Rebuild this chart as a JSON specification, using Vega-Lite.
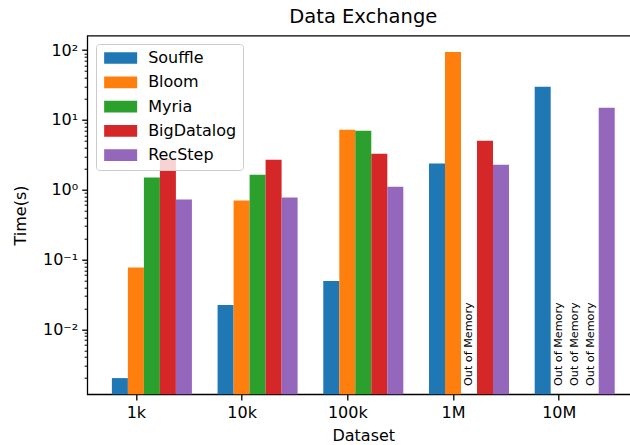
{
  "$schema": "https://vega.github.io/schema/vega-lite/v6.json",
  "width": 552,
  "height": 358.6,
  "autosize": {"type": "none"},
  "padding": {"left": 87.3, "top": 35.7, "right": 0, "bottom": 50.7},
  "background": "white",
  "title": {"text": "Data Exchange", "fontSize": 19.5, "fontWeight": "normal", "font": "DejaVu Sans", "color": "black", "offset": 8},
  "config": {
    "font": "DejaVu Sans",
    "view": {"stroke": "black", "strokeWidth": 1.3},
    "axis": {"domain": false, "grid": false, "labelFont": "DejaVu Sans", "titleFont": "DejaVu Sans", "labelColor": "black", "titleColor": "black", "tickColor": "black", "labelFontSize": 16, "titleFontSize": 16, "titleFontWeight": "normal", "tickWidth": 1.3, "tickSize": 5.6}
  },
  "data": {"values": [
    {"dataset": "1k", "system": "Souffle", "time": 0.002},
    {"dataset": "1k", "system": "Bloom", "time": 0.077},
    {"dataset": "1k", "system": "Myria", "time": 1.49},
    {"dataset": "1k", "system": "BigDatalog", "time": 2.75},
    {"dataset": "1k", "system": "RecStep", "time": 0.72},
    {"dataset": "10k", "system": "Souffle", "time": 0.0223},
    {"dataset": "10k", "system": "Bloom", "time": 0.70},
    {"dataset": "10k", "system": "Myria", "time": 1.64},
    {"dataset": "10k", "system": "BigDatalog", "time": 2.69},
    {"dataset": "10k", "system": "RecStep", "time": 0.77},
    {"dataset": "100k", "system": "Souffle", "time": 0.0492},
    {"dataset": "100k", "system": "Bloom", "time": 7.2},
    {"dataset": "100k", "system": "Myria", "time": 6.95},
    {"dataset": "100k", "system": "BigDatalog", "time": 3.28},
    {"dataset": "100k", "system": "RecStep", "time": 1.10},
    {"dataset": "1M", "system": "Souffle", "time": 2.36},
    {"dataset": "1M", "system": "Bloom", "time": 93.6},
    {"dataset": "1M", "system": "Myria", "time": null, "note": "Out of Memory"},
    {"dataset": "1M", "system": "BigDatalog", "time": 5.03},
    {"dataset": "1M", "system": "RecStep", "time": 2.28},
    {"dataset": "10M", "system": "Souffle", "time": 29.7},
    {"dataset": "10M", "system": "Bloom", "time": null, "note": "Out of Memory"},
    {"dataset": "10M", "system": "Myria", "time": null, "note": "Out of Memory"},
    {"dataset": "10M", "system": "BigDatalog", "time": null, "note": "Out of Memory"},
    {"dataset": "10M", "system": "RecStep", "time": 14.9}
  ]},
  "layer": [
    {
      "transform": [{"filter": "datum.time != null"}],
      "mark": {"type": "bar"},
      "encoding": {
        "x": {"field": "dataset", "type": "nominal", "sort": ["1k", "10k", "100k", "1M", "10M"],
          "scale": {"paddingInner": 0.243, "paddingOuter": 0.2326},
          "axis": {"title": "Dataset", "labelAngle": 0, "tickOffset": -16, "labelPadding": 5, "titlePadding": 7}},
        "xOffset": {"field": "system", "type": "nominal", "sort": ["Souffle", "Bloom", "Myria", "BigDatalog", "RecStep"],
          "scale": {"domain": ["Souffle", "Bloom", "Myria", "BigDatalog", "RecStep"], "paddingInner": 0, "paddingOuter": 0}},
        "y": {"field": "time", "type": "quantitative", "stack": null,
          "scale": {"type": "log", "domain": [0.001172, 160.3], "nice": false},
          "axis": {
            "title": "Time(s)",
            "values": [0.002, 0.003, 0.004, 0.005, 0.006, 0.007, 0.008, 0.009, 0.01, 0.02, 0.03, 0.04, 0.05, 0.06, 0.07, 0.08, 0.09, 0.1, 0.2, 0.3, 0.4, 0.5, 0.6, 0.7, 0.8, 0.9, 1, 2, 3, 4, 5, 6, 7, 8, 9, 10, 20, 30, 40, 50, 60, 70, 80, 90, 100],
            "labelExpr": "abs(log(datum.value)/LN10 - round(log(datum.value)/LN10)) < 0.001 ? (round(log(datum.value)/LN10) == 2 ? '10²' : round(log(datum.value)/LN10) == 1 ? '10¹' : round(log(datum.value)/LN10) == 0 ? '10⁰' : round(log(datum.value)/LN10) == -1 ? '10⁻¹' : '10⁻²') : ''",
            "tickSize": {"condition": {"test": "abs(log(datum.value)/LN10 - round(log(datum.value)/LN10)) < 0.001", "value": 5.6}, "value": 3.2},
            "tickWidth": {"condition": {"test": "abs(log(datum.value)/LN10 - round(log(datum.value)/LN10)) < 0.001", "value": 1.3}, "value": 1},
            "labelPadding": 4,
            "titlePadding": 14
          }},
        "color": {"field": "system", "type": "nominal",
          "scale": {"domain": ["Souffle", "Bloom", "Myria", "BigDatalog", "RecStep"], "range": ["#1f77b4", "#ff7f0e", "#2ca02c", "#d62728", "#9467bd"]},
          "legend": {"title": null, "orient": "none", "legendX": 8.7, "legendY": 8.3,
            "symbolType": "M-2.82,-1L2.82,-1L2.82,1L-2.82,1Z", "symbolSize": 137, "symbolStrokeWidth": 0, "symbolOpacity": 1,
            "symbolOffset": 10.65, "labelOffset": 19.5, "labelFontSize": 16, "labelFont": "DejaVu Sans", "labelColor": "black",
            "rowPadding": 8.3, "columnPadding": 0, "padding": 6, "fillColor": "rgba(255,255,255,0.8)", "strokeColor": "#cccccc", "cornerRadius": 3, "labelLimit": 200}}
      }
    },
    {
      "transform": [{"filter": "datum.note != null"}],
      "mark": {"type": "text", "angle": 270, "align": "left", "baseline": "middle", "fontSize": 11.2, "color": "black", "font": "DejaVu Sans"},
      "encoding": {
        "x": {"field": "dataset", "type": "nominal", "sort": ["1k", "10k", "100k", "1M", "10M"]},
        "xOffset": {"field": "system", "type": "nominal", "sort": ["Souffle", "Bloom", "Myria", "BigDatalog", "RecStep"]},
        "y": {"datum": 0.00154, "type": "quantitative"},
        "text": {"field": "note"}
      }
    }
  ]
}
